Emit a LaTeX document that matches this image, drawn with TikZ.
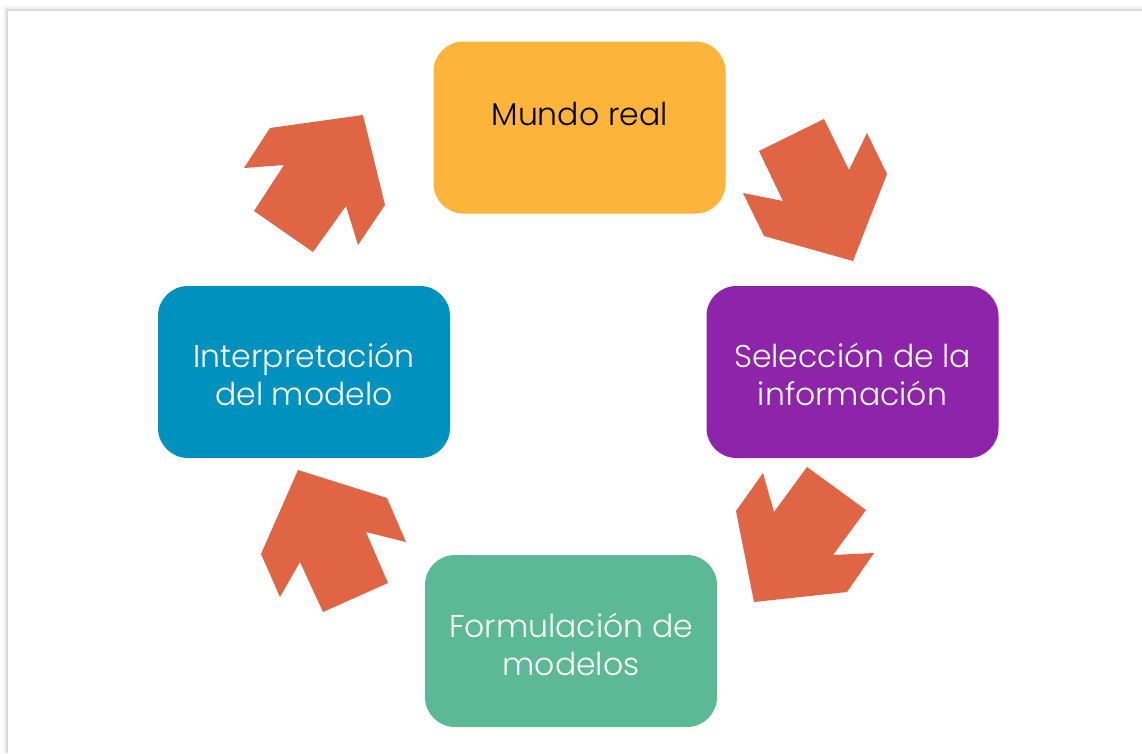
\documentclass[tikz,border=0pt]{standalone}
\usepackage{fontspec}
\setmainfont{Poppins}[UprightFont=* Light]
\definecolor{cOrange}{HTML}{FDB43A}
\definecolor{cBlue}{HTML}{0091BF}
\definecolor{cPurple}{HTML}{8E24AA}
\definecolor{cGreen}{HTML}{5BB997}
\definecolor{cArrow}{HTML}{E06545}
\tikzset{
  box/.style={rounded corners=30pt, minimum width=292pt, minimum height=172pt, inner sep=0pt},
  lbl/.style={inner sep=0pt, align=center, anchor=base, text=white,
    font=\fontsize{31.5}{38}\selectfont},
  bigarrow/.style={fill=cArrow, draw=none},
}
\begin{document}
\begin{tikzpicture}[x=1pt,y=-1pt]
\useasboundingbox (0,0) rectangle (1142,753);
\fill[white] (0,0) rectangle (1142,753);
% page shadow
\foreach \i/\o in {0/0.008,1/0.015,2/0.022,3/0.03,4/0.04,5/0.05}{
  \fill[black,opacity=\o] (2+\i,5+\i) rectangle (1142,753);
}
\fill[white] (8,11) rectangle (1142,753);
% boxes
\node[box, fill=cOrange] (mundo) at (579.5,127.5) {};
\node[box, fill=cPurple] (selec) at (852.5,372) {};
\node[box, fill=cGreen] (formu) at (571,641) {};
\node[box, fill=cBlue] (inter) at (304,372) {};
\node[lbl, text=black] (mundoT) at (mundo.center |- 0,125) {Mundo real};
\node[lbl] (selecT) at (selec.center |- 0,405) {Selección de la\\información};
\node[lbl] (formuT) at (formu.center |- 0,675) {Formulación de\\modelos};
\node[lbl] (interT) at (inter.center |- 0,405) {Interpretación\\del modelo};
% arrows
\fill[bigarrow] (270,128) -- (363,115) -- (385,205) -- (358,245) -- (346,206) -- (313,252) -- (254,211) -- (284,165) -- (244,168) -- cycle;
\fill[bigarrow] (759,151) -- (824,119) -- (849,170) -- (867,133) -- (887,174) -- (853,261) -- (764,236) -- (743,193) -- (783,201) -- cycle;
\fill[bigarrow] (807,467) -- (866,510) -- (833,555) -- (874,553) -- (847,592) -- (754,602) -- (736,511) -- (763,473) -- (774,512) -- cycle;
\fill[bigarrow] (298,470) -- (387,498) -- (406,542) -- (366,532) -- (388,583) -- (323,612) -- (300,562) -- (280,597) -- (261,554) -- cycle;
\end{tikzpicture}
\end{document}
